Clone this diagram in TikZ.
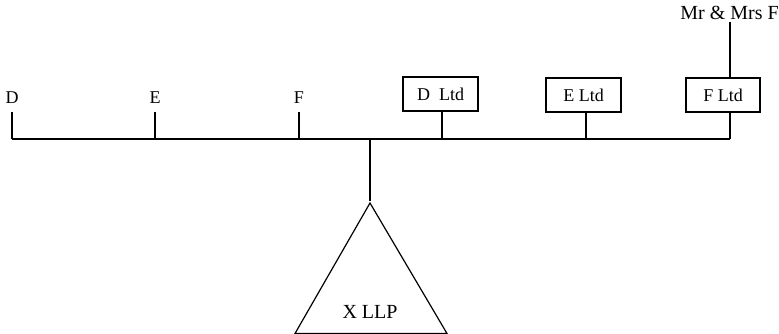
\documentclass[tikz,border=0pt]{standalone}
\usepackage{fontspec}
\setmainfont{Liberation Serif}
\begin{document}
\begin{tikzpicture}[x=1pt,y=-1pt,
  lbl/.style={font=\fontsize{18}{20}\selectfont, inner sep=0pt, anchor=center},
  biglbl/.style={font=\fontsize{20}{22}\selectfont, inner sep=0pt, anchor=center},
  box/.style={draw, line width=1.2pt, font=\fontsize{18}{20}\selectfont, minimum width=75pt, minimum height=34pt, inner sep=0pt},
  ln/.style={line width=1.2pt}]
\useasboundingbox (0,0) rectangle (779,333);
% labels
\node[lbl] (d) at (12,98) {D};
\node[lbl] (e) at (155,98) {E};
\node[lbl] (f) at (299,98) {F};
\node[box] (dltd) at (440.5,94) {D\enspace Ltd};
\node[box] (eltd) at (583.5,95) {E Ltd};
\node[box, minimum width=74pt] (fltd) at (723,95) {F Ltd};
\node[biglbl] (mr) at (729.5,13) {Mr \& Mrs F};
\node[biglbl] (llp) at (370,312) {X LLP};
% bus coordinates
\coordinate (bd) at (12,139);
\coordinate (be) at (155,139);
\coordinate (bf) at (299,139);
\coordinate (bdl) at (442,139);
\coordinate (bel) at (586,139);
\coordinate (bfl) at (730,139);
\coordinate (bx) at (370,139);
\coordinate (td) at (12,112);
\coordinate (te) at (155,112);
\coordinate (tf) at (299,112);
\coordinate (apex) at (370,203);
\coordinate (tl) at (295,333.5);
\coordinate (tr) at (447,333.5);
\coordinate (mrb) at (730,22);
% bus
\draw[ln] (bd) -- (bfl);
\draw[ln] (td) -- (bd);
\draw[ln] (te) -- (be);
\draw[ln] (tf) -- (bf);
\draw[ln] (dltd.south -| bdl) -- (bdl);
\draw[ln] (eltd.south -| bel) -- (bel);
\draw[ln] (fltd.south -| bfl) -- (bfl);
\draw[ln] (mrb) -- (fltd.north -| mrb);
\draw[ln] (bx) -- (370,201);
% triangle
\draw[ln, line join=miter] (apex) -- (tr) -- (tl) -- cycle;
\end{tikzpicture}
\end{document}
